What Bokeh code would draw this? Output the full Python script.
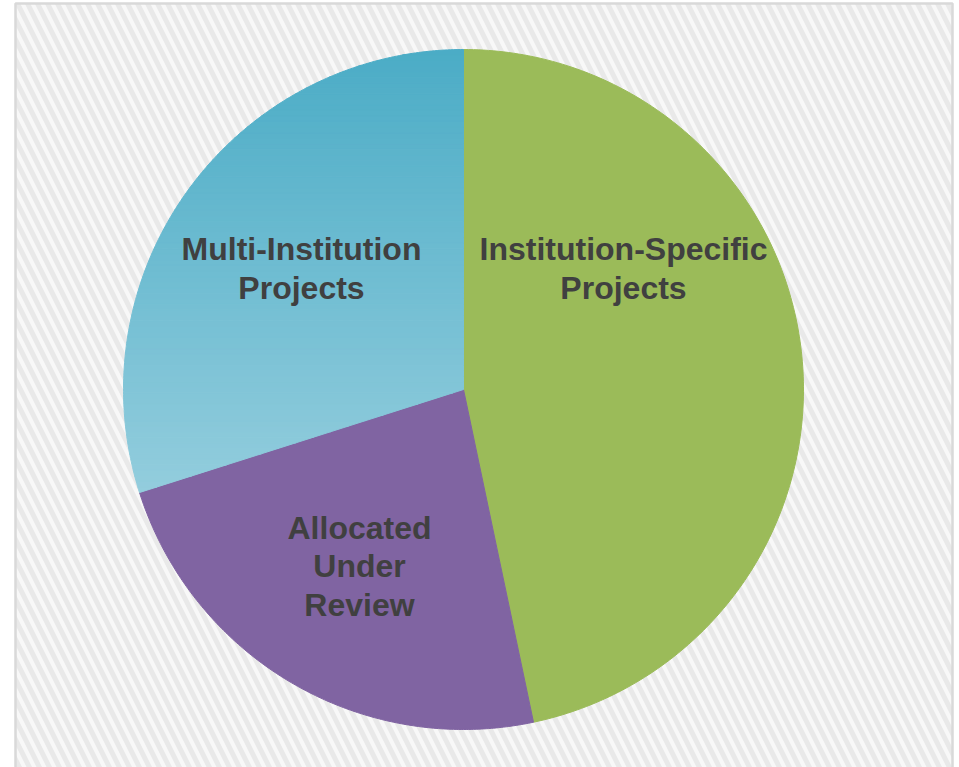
import numpy as np
from bokeh.plotting import figure
from bokeh.models import Range1d, ColumnDataSource
from bokeh.core.properties import value
from bokeh.embed import file_html
from bokeh.resources import INLINE

# ---- data ----
categories = ["Institution-Specific Projects", "Allocated Under Review", "Multi-Institution Projects"]
shares = [46.7, 23.4, 29.9]
labels = ["Institution-Specific\nProjects", "Allocated\nUnder\nReview", "Multi-Institution\nProjects"]

# ---- styles / layout ----
slice_colors = ["#9BBB59", "#8064A2", None]   # None -> gradient
grad_top = (0x4B, 0xAC, 0xC6)
grad_bottom = (0x93, 0xCD, 0xDD)
text_color = "#404040"
W, H = 959, 767
OX, OY = 0, 0       # page offset of the figure
CX, CY = 463, 389   # pie centre, page pixels
R = 340
label_pos = [(623, 268), (359, 566), (301, 268)]  # page pixels


def sx(x):
    return x - CX


def sy(y):
    return CY - y


p = figure(width=W, height=H,
           x_range=Range1d(OX - CX, OX + W - CX),
           y_range=Range1d(CY - (OY + H), CY - OY),
           output_backend="svg", toolbar_location=None, min_border=0,
           x_axis_location=None, y_axis_location=None)
p.grid.visible = False
p.outline_line_color = None
p.background_fill_color = "white"
p.border_fill_color = "white"

# chart area with diagonal hatch and light border
p.quad(left=sx(15), right=sx(952), top=sy(3), bottom=sy(900),
       fill_color="#f8f8f8", hatch_pattern="left_diagonal_line",
       hatch_color="#e9e9e9", hatch_weight=5, hatch_scale=20,
       line_color="#d9d9d9", line_width=2.5)


def wedge_poly(a0, a1, n=200):
    t = np.radians(np.linspace(a0, a1, n))
    xs = np.concatenate([[0.0], R * np.sin(t)])
    ys = np.concatenate([[0.0], R * np.cos(t)])
    return list(zip(xs, ys))


def clip(poly, y0, keep_above):
    out = []
    m = len(poly)
    for i in range(m):
        a = poly[i]
        b = poly[(i + 1) % m]
        ina = (a[1] >= y0) if keep_above else (a[1] <= y0)
        inb = (b[1] >= y0) if keep_above else (b[1] <= y0)
        if ina:
            out.append(a)
        if ina != inb:
            t = (y0 - a[1]) / (b[1] - a[1])
            out.append((a[0] + t * (b[0] - a[0]), y0))
    return out


total = sum(shares)
angles = np.concatenate([[0.0], np.cumsum(shares) / total * 360.0])

xs_list, ys_list, fills = [], [], []
for i, c in enumerate(slice_colors):
    poly = wedge_poly(angles[i], angles[i + 1])
    if c is not None:
        xs_list.append([q[0] for q in poly])
        ys_list.append([q[1] for q in poly])
        fills.append(c)
    else:
        ymax = max(q[1] for q in poly)
        ymin = min(q[1] for q in poly)
        nb = 80
        edges = np.linspace(ymin, ymax, nb + 1)
        for k in range(nb):
            band = clip(clip(poly, edges[k], True), edges[k + 1], False)
            if len(band) < 3:
                continue
            f = (ymax - (edges[k] + edges[k + 1]) / 2) / (ymax - ymin)
            col = tuple(int(round(grad_top[j] + f * (grad_bottom[j] - grad_top[j]))) for j in range(3))
            xs_list.append([q[0] for q in band])
            ys_list.append([q[1] for q in band])
            fills.append("#%02x%02x%02x" % col)

src = ColumnDataSource(dict(xs=xs_list, ys=ys_list, fill=fills))
p.patches("xs", "ys", source=src, fill_color="fill", line_color="fill", line_width=1)

lsrc = ColumnDataSource(dict(x=[sx(a) for a, b in label_pos], y=[sy(b) for a, b in label_pos], text=labels))
p.text("x", "y", text="text", source=lsrc, text_font=value("Liberation Sans"),
       text_font_style="bold", text_font_size="32px", text_color=text_color,
       text_align="center", text_baseline="middle", text_line_height=1.06)

open("out.html", "w").write(file_html(p, INLINE))
